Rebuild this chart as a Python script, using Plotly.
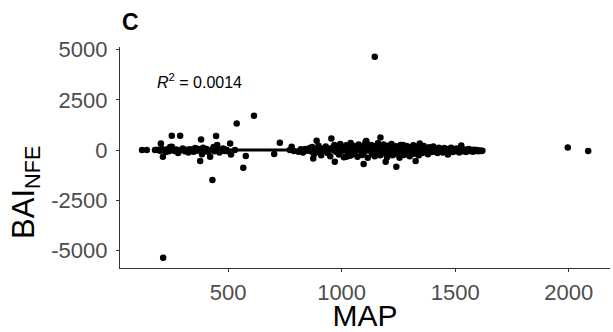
import plotly.graph_objects as go

# ---- data ----
# low MAP segment
map_low = [121, 142, 178, 190, 200, 204, 208, 213, 218, 225, 232, 240, 245, 252, 252, 258,
           265, 272, 280, 289, 295, 300, 310, 318, 325, 332, 340, 348, 355, 362, 370, 377,
           381, 385, 390, 398, 405, 412, 421, 428, 431, 436, 440, 447, 452, 456, 462, 470,
           478, 485, 492, 500, 214]
bai_low = [0, 0, 0, 20, -30, 333, 60, -333, 0, -100, 40, -60, 150, 711, 164, 0,
           -40, 30, -150, 711, 0, 80, -60, 20, -120, 40, 0, -80, 100, -30, 50, -547,
           532, -200, 120, -40, 60, -100, -333, 0, -1491, 150, -60, 696, 248, 40, -120, 0,
           80, -40, 20, -60, -5353]

# mid MAP segment
map_mid = [509, 513, 530, 538, 567, 578, 614, 703, 728, 772, 780, 790, 810, 820, 830, 840,
           850, 860]
bai_mid = [333, -214, 0, 1327, -880, -298, 1705, -199, 364, 0, 164, -50, -80, 40, -120, 60,
           -30, 100]

# high MAP segment (dense band)
map_high = [865, 870, 875, 878, 884, 890, 892, 898, 905, 910, 918, 925, 930, 938, 944, 950,
            955, 958, 963, 968, 970, 975, 982, 988, 994, 1000, 1005, 1010, 1015, 1020, 1021,
            1026, 1030, 1036, 1040, 1043, 1046, 1050, 1055, 1060, 1065, 1070, 1075, 1080,
            1085, 1090, 1094, 1097, 1100, 1104, 1106, 1109, 1110, 1115, 1120, 1125, 1130,
            1135, 1140, 1146, 1150, 1155, 1160, 1165, 1170, 1171, 1176, 1180, 1185, 1190,
            1194, 1196, 1200, 1205, 1210, 1215, 1220, 1225, 1230, 1235, 1240, 1241, 1246,
            1250, 1255, 1260, 1265, 1270, 1275, 1280, 1286, 1290, 1296, 1300, 1305, 1310,
            1316, 1320, 1325, 1326, 1330, 1336, 1340, 1344, 1346, 1350, 1356, 1362, 1368,
            1374, 1380, 1386, 1392, 1398, 1404, 1410, 1416, 1422, 1428, 1434, 1440, 1446,
            1452, 1458, 1464, 1468, 1470, 1476, 1482, 1488, 1494, 1500, 1506, 1512, 1518,
            1524, 1527, 1530, 1536, 1542, 1548, 1554, 1560, 1566, 1572, 1578, 1584, 1590,
            1596, 1602, 1608, 1614, 1620]
bai_high = [-60, 150, -414, -200, 30, 464, -100, 220, 0, -260, 80, -30, 180, -150, 40, -300,
            580, 120, 0, 260, -580, -80, 60, -220, 300, -40, 150, -350, 20, 240, -333,
            -120, 80, -280, 350, -249, 0, -180, 200, -60, 120, -330, 280, -20,
            60, -240, 180, -696, -100, 320, 414, 447, 0, -380, 140, -50, 260,
            -200, 40, -300, 200, -90, 340, 0, -250, 630, 100, -40, 280, -160,
            -580, 60, -350, 220, 0, -120, 300, -260, 80, -30, 190, -829, -200,
            40, -380, 260, -60, 248, -240, 0, 200, -120, 60, -300, 160, -20,
            240, -180, 80, -547, -60, 180, -260, 333, 20, 120, -140, 200, -40,
            80, -200, 140, 0, -100, 180, -60, 60, -150, 120, -20, 40, -120,
            100, 0, -80, -214, 60, -40, 120, -100, 20, -60, 80, -20, -120,
            40, 230, 0, -60, 30, -100, 0, 60, -40, 0, -80, 20, -40,
            0, -60, -20, -40, -30]

# far outliers
map_out = [1146, 1996, 2086]
bai_out = [4637, 133, -50]

# near-flat fitted line
fit_map = [165, 1620]
fit_bai = [0, 0]

x_ticks = [500, 1000, 1500, 2000]
y_ticks = [-5000, -2500, 0, 2500, 5000]
y_tick_text = ["-5000", "-2500", "0", "2500", "5000"]
r2_text = "<i>R</i><sup>2</sup> = 0.0014"
r2_pos = (373, 3430)

FONT = "Liberation Sans, Arial, sans-serif"

fig = go.Figure()
fig.add_trace(go.Scatter(x=fit_map, y=fit_bai, mode="lines",
                         line=dict(color="black", width=3), showlegend=False))
all_x = map_low + map_mid + map_high + map_out
all_y = bai_low + bai_mid + bai_high + bai_out
fig.add_trace(go.Scatter(x=all_x, y=all_y, mode="markers",
                         marker=dict(color="black", size=6.5, line=dict(width=0)),
                         showlegend=False))

fig.add_annotation(xref="x", yref="y", x=r2_pos[0], y=r2_pos[1], text=r2_text,
                   showarrow=False, font=dict(family=FONT, size=16, color="black"),
                   xanchor="center", yanchor="middle")
fig.add_annotation(xref="paper", yref="paper", x=0.0, y=1.0, yshift=10, xshift=0,
                   text="<b>C</b>", showarrow=False, xanchor="left", yanchor="bottom",
                   font=dict(family=FONT, size=23, color="black"))
# y-axis title (placed like the reference)
fig.add_annotation(xref="paper", yref="paper", x=-0.192, y=0.344,
                   text="BAI<sub>NFE</sub>", textangle=-90, showarrow=False,
                   xanchor="center", yanchor="middle",
                   font=dict(family=FONT, size=31, color="black"))

axis_common = dict(showline=True, linecolor="#333333", linewidth=1.3,
                   ticks="outside", ticklen=3, tickwidth=1, tickcolor="#333333",
                   showgrid=False, zeroline=False,
                   tickfont=dict(family=FONT, size=22, color="#4D4D4D"))

fig.update_xaxes(range=[24, 2182], tickvals=x_ticks,
                 title=dict(text="MAP", font=dict(family=FONT, size=30, color="black"),
                            standoff=5),
                 ticklabelstandoff=1, **axis_common)
fig.update_yaxes(range=[-5860, 5125], tickvals=y_ticks, ticktext=y_tick_text,
                 ticklabelstandoff=4, **axis_common)

fig.update_layout(width=613, height=332, margin=dict(l=120, r=3, t=47, b=64, autoexpand=False),
                  plot_bgcolor="white", paper_bgcolor="white")

fig.write_html("out.html")
